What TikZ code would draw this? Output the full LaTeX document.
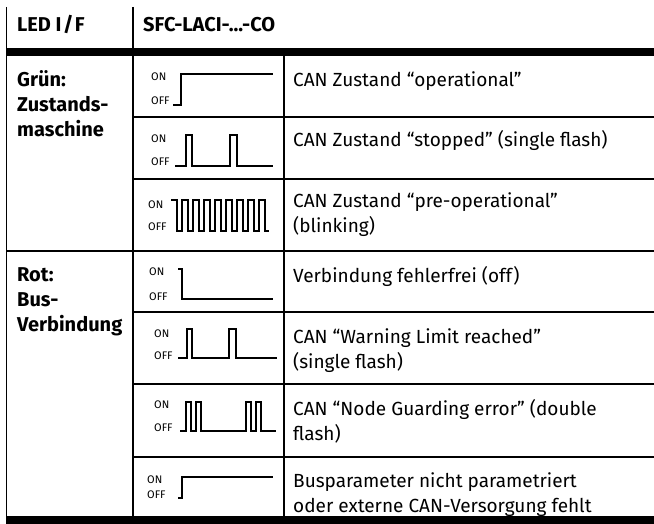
\documentclass[tikz,border=0pt]{standalone}
\usepackage{fontspec}
\setmainfont{Fira Sans}
\begin{document}
\begin{tikzpicture}[x=1pt,y=-1pt,
    rule/.style={line width=1.1pt},
    bar/.style={line width=8pt},
    sig/.style={line width=1.4pt},
    txt/.style={anchor=base west,inner sep=0pt,align=left,font=\fontsize{19}{25}\selectfont},
    head/.style={txt,font=\fontsize{20}{25}\selectfont\bfseries},
    lvl/.style={anchor=base west,inner sep=0pt,font=\fontsize{11}{12}\selectfont}]
  \useasboundingbox (0,0) rectangle (654,524);

  % table rules
  \draw[bar] (6,52) -- (654,52);
  \draw[bar] (6,520) -- (654,520);
  \draw[rule] (6.5,7) -- (6.5,516);
  \draw[rule] (133,7) -- (133,516);
  \draw[rule] (284,56) -- (284,516);
  \draw[rule] (6.5,251) -- (654,251);
  \foreach \y in {117,179,312,384,457}
    \draw[rule] (133,\y) -- (654,\y);

  % header
  \node[head] (led) at (17,32) {LED I\kern1.5pt/\kern1.5pt F};
  \node[head] (sfc) at (143,32) {SFC-LACI-...-CO};

  % LED colours (base = last line)
  \node[head] (gruen) at (17,137) {Grün:\\Zustands-\\maschine};
  \node[head] (rot) at (17,331) {Rot:\\Bus-\\Verbindung};

  % ON/OFF levels
  \foreach \r/\x/\yon/\yoff in {1/151/81/105, 2/151/143/166, 3/148/208/231,
      4/149/276/300, 5/154/337/359, 6/154/408/431, 7/147/483/498} {
    \node[lvl] (on\r) at (\x,\yon) {ON};
    \node[lvl] (off\r) at (\x,\yoff) {OFF};
  }

  % signals
  \draw[sig] (173,105) -| (181,74) -- (273,74);
  \draw[sig] (175,166) -| (186,135) -| (192,166) -| (230,135) -| (237,166) -- (273,166);
  \draw[sig] (171,200) -| (177,231)
    \foreach \k in {0,...,7} { -| (182+11*\k,200) -| (188+11*\k,231) } -- (269,231);
  \draw[sig] (178,269) -| (182,299) -- (273,299);
  \draw[sig] (178,358) -| (187,329) -| (192,358) -| (229,329) -| (236,358) -- (277,358);
  \draw[sig] (180,431) -| (186,402) -| (191,431) -| (196,402) -| (201,431)
    -| (246,402) -| (251,431) -| (256,402) -| (261,431) -- (276,431);
  \draw[sig] (178,498) -| (182,477) -- (273,477);

  % meaning (base = last line)
  \node[txt] (d1) at (293,87) {CAN Zustand “operational”};
  \node[txt] (d2) at (293,147) {CAN Zustand “stopped” (single flash)};
  \node[txt] (d3) at (293,233) {CAN Zustand “pre-operational”\\(blinking)};
  \node[txt] (d4) at (293,282) {Verbindung fehlerfrei (off)};
  \node[txt] (d5) at (293,368) {CAN “Warning Limit reached”\\(single flash)};
  \node[txt] (d6) at (293,440) {CAN “Node Guarding error” (double\\flash)};
  \node[txt] (d7) at (293,512) {Busparameter nicht parametriert\\oder externe CAN-Versorgung fehlt};
\end{tikzpicture}
\end{document}
